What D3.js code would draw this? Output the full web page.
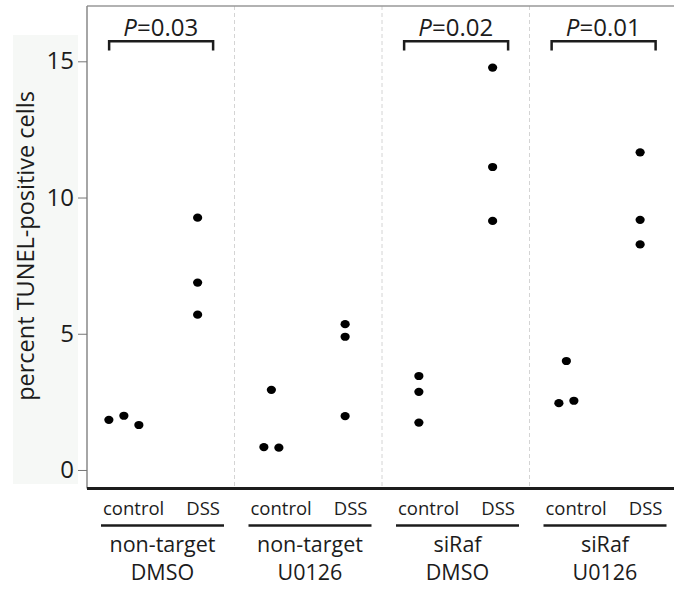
<!DOCTYPE html>
<html>
<head>
<meta charset="utf-8">
<script src="https://cdn.jsdelivr.net/npm/d3@7"></script>
<style>
	body { margin: 0; background: #fff; }
	svg { display: block; font-family: 'Open Sans', 'Noto Sans', sans-serif; }
</style>
</head>
<body>
<div id="chart"></div>
<script>
// data
const groupLine1 = ['non-target', 'non-target', 'siRaf', 'siRaf'];
const groupLine2 = ['DMSO', 'U0126', 'DMSO', 'U0126'];
const conditions = ['control', 'DSS'];
const controlValues = [
	[1.84, 1.99, 1.65],
	[0.84, 0.82, 2.94],
	[3.45, 2.87, 1.74],
	[2.45, 2.54, 4.0]
];
const dssValues = [
	[9.26, 6.88, 5.70],
	[5.35, 4.89, 1.98],
	[14.77, 11.12, 9.14],
	[11.66, 9.18, 8.28]
];
const pValues = ['0.03', null, '0.02', '0.01'];
const yTicks = [0, 5, 10, 15];

const width = 674;
const height = 590;
const margin = { top: 6, left: 87, bottom: 488.5 };
const panelW = 147.5;
const ink = '#1c1c1c';

const groups = groupLine1.map((d, i) => d + ' ' + groupLine2[i]);

const svg = d3.select('#chart')
	.append('svg')
	.attr('width', width)
	.attr('height', height);

const x = d3.scaleBand()
	.domain(groups)
	.range([margin.left, margin.left + panelW * groups.length]);

const xInner = d3.scalePoint()
	.domain(conditions)
	.range([0, x.bandwidth()])
	.padding(0.5);

const y = d3.scaleLinear()
	.domain([-0.68, 17.03])
	.range([margin.bottom, margin.top]);

// light backdrop behind the y label
svg.append('rect')
	.attr('x', 13)
	.attr('y', 35)
	.attr('width', 65)
	.attr('height', 449)
	.attr('fill', '#f6f8f6');

// panel separators
svg.selectAll('line.sep')
	.data(groups.slice(1))
	.join('line')
	.attr('class', 'sep')
	.attr('x1', (d) => x(d))
	.attr('x2', (d) => x(d))
	.attr('y1', margin.top)
	.attr('y2', margin.bottom)
	.attr('stroke', '#d4d4d4')
	.attr('stroke-dasharray', '4,3');

// frame
svg.append('line')
	.attr('x1', margin.left).attr('x2', width)
	.attr('y1', margin.top).attr('y2', margin.top)
	.attr('stroke', '#999').attr('stroke-width', 1.5);

const yAxis = svg.append('g')
	.attr('transform', `translate(${margin.left},0)`)
	.call(d3.axisLeft(y).tickValues(yTicks).tickSize(9).tickPadding(4));

yAxis.select('.domain')
	.attr('stroke', '#888')
	.attr('stroke-width', 1.5)
	.attr('d', `M0,${margin.top}V${margin.bottom}`);
yAxis.selectAll('.tick line').attr('stroke', '#777');
yAxis.selectAll('.tick text')
	.attr('font-size', 24)
	.attr('fill', ink)
	.attr('font-family', "'Open Sans', sans-serif");

svg.append('line')
	.attr('x1', margin.left).attr('x2', width)
	.attr('y1', margin.bottom).attr('y2', margin.bottom)
	.attr('stroke', ink).attr('stroke-width', 3);

svg.append('text')
	.attr('transform', `translate(34,246) rotate(-90)`)
	.attr('text-anchor', 'middle')
	.attr('font-size', 23.5)
	.attr('fill', ink)
	.text('percent TUNEL-positive cells');

// spread points that sit on top of each other
function dodge (values) {
	const order = d3.range(values.length).sort((a, b) => values[a] - values[b]);
	const clusters = [];
	order.forEach((idx) => {
		const last = clusters[clusters.length - 1];
		if (last && values[idx] - values[last[last.length - 1]] < 0.35) {
			last.push(idx);
		} else {
			clusters.push([idx]);
		}
	});
	const offs = new Array(values.length).fill(0);
	clusters.forEach((c) => {
		c.sort((a, b) => a - b);
		c.forEach((idx, k) => {
			offs[idx] = (k - (c.length - 1) / 2) * 15;
		});
	});
	return offs;
}

const points = [];
groups.forEach((g, gi) => {
	[controlValues[gi], dssValues[gi]].forEach((vals, ci) => {
		const offs = dodge(vals);
		vals.forEach((v, k) => {
			points.push({ group: g, cond: conditions[ci], value: v, off: offs[k] });
		});
	});
});

svg.selectAll('ellipse.pt')
	.data(points)
	.join('ellipse')
	.attr('class', 'pt')
	.attr('cx', (d) => x(d.group) + xInner(d.cond) + d.off)
	.attr('cy', (d) => y(d.value))
	.attr('rx', 4.6)
	.attr('ry', 4.1)
	.attr('fill', '#000');

// significance brackets
const brackets = groups
	.map((g, i) => ({ group: g, p: pValues[i] }))
	.filter((d) => d.p);

const br = svg.selectAll('g.bracket')
	.data(brackets)
	.join('g')
	.attr('class', 'bracket')
	.attr('transform', (d) => `translate(${x(d.group)},0)`);

br.append('path')
	.attr('d', `M${x.bandwidth() * 0.15},50.5V41.3H${x.bandwidth() * 0.855}V50.5`)
	.attr('fill', 'none')
	.attr('stroke', ink)
	.attr('stroke-width', 2.5);

const pt = br.append('text')
	.attr('x', x.bandwidth() * 0.5)
	.attr('y', 36)
	.attr('text-anchor', 'middle')
	.attr('font-size', 24)
	.attr('fill', ink);
pt.append('tspan').attr('font-style', 'italic').text('P');
pt.append('tspan').text((d) => '=' + d.p);

// category labels under the axis
const cat = svg.selectAll('g.cat')
	.data(groups)
	.join('g')
	.attr('class', 'cat')
	.attr('transform', (d) => `translate(${x(d)},0)`);

const ulStart = 14;
const ulEnd = 137;

cat.append('line')
	.attr('x1', ulStart).attr('x2', ulEnd)
	.attr('y1', 525.5).attr('y2', 525.5)
	.attr('stroke', ink)
	.attr('stroke-width', 2.5);

cat.selectAll('text.cond')
	.data(conditions)
	.join('text')
	.attr('class', 'cond')
	.attr('x', (d, i) => i === 0 ? ulStart + 2 : ulEnd - 4)
	.attr('y', 515)
	.attr('text-anchor', (d, i) => i === 0 ? 'start' : 'end')
	.attr('font-size', 18.5)
	.attr('fill', ink)
	.text((d) => d);

cat.append('text')
	.attr('x', (ulStart + ulEnd) / 2)
	.attr('y', 551.5)
	.attr('text-anchor', 'middle')
	.attr('font-size', 21.5)
	.attr('fill', ink)
	.text((d, i) => groupLine1[i]);

cat.append('text')
	.attr('x', (ulStart + ulEnd) / 2)
	.attr('y', 580)
	.attr('text-anchor', 'middle')
	.attr('font-size', 21.5)
	.attr('fill', ink)
	.text((d, i) => groupLine2[i]);
</script>
</body>
</html>
